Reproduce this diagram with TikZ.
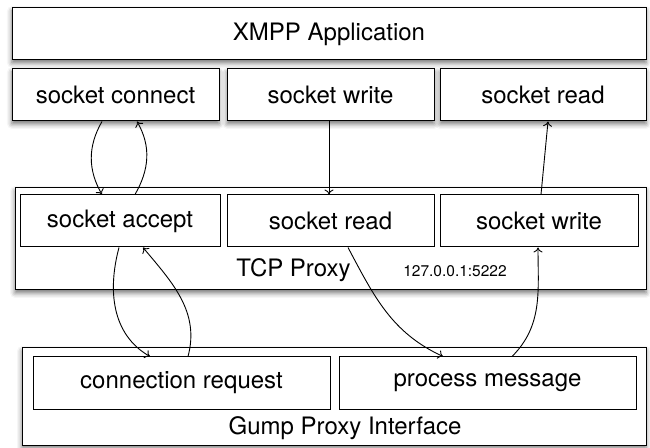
\documentclass[tikz,border=0pt]{standalone}
\usepackage{fontspec}
\setmainfont{TeX Gyre Heros}
\usetikzlibrary{shadows.blur, arrows.meta}

\begin{document}
\begin{tikzpicture}[x=1pt, y=1pt,
    layer/.style={draw, line width=1pt, fill=white, inner sep=0pt, minimum height=52pt,
        font=\fontsize{24}{26}\selectfont,
        blur shadow={shadow xshift=0pt, shadow yshift=-3pt, shadow blur radius=5pt, shadow opacity=55}},
    part/.style={draw, line width=1pt, fill=white, inner sep=0pt, minimum height=52pt,
        font=\fontsize{24}{26}\selectfont},
    frame/.style={draw, line width=1pt, fill=white, inner sep=0pt,
        blur shadow={shadow xshift=0pt, shadow yshift=-3pt, shadow blur radius=5pt, shadow opacity=55}},
    flow/.style={-{To[length=5pt, width=9pt]}, line width=0.9pt}]
    \useasboundingbox (0, 0) rectangle (650, 447);
    \node[layer, minimum width=634] (app) at (329, 413) {XMPP Application};
    \node[layer, minimum width=207] (sconn) at (115.5, 352) {socket connect};
    \node[layer, minimum width=207] (swrite) at (330.5, 352) {socket write};
    \node[layer, minimum width=206] (sread) at (543, 352) {socket read};
    \node[frame, minimum width=631, minimum height=102] (tcp) at (330.5, 208) {};
    \node[part, minimum width=200] (paccept) at (120, 226) {socket accept};
    \node[part, minimum width=207] (pread) at (330.5, 226) {socket read};
    \node[part, minimum width=198] (pwrite) at (539, 226) {socket write};
    \node[font=\fontsize{24}{26}\selectfont] (tcplabel) at (293.5, 177) {TCP Proxy};
    \node[font=\fontsize{15.5}{18}\selectfont] (addr) at (455, 176) {127.0.0.1:5222};
    \node[frame, minimum width=624, minimum height=97] (gump) at (334, 50.5) {};
    \node[part, minimum width=297] (creq) at (181.5, 64) {connection request};
    \node[part, minimum width=297] (pmsg) at (487.5, 64) {process message};
    \node[font=\fontsize{24}{26}\selectfont] (gumplabel) at (345, 19) {Gump Proxy Interface};
    \draw[flow] ([xshift=-13.5pt]sconn.south) to[out=-120, in=120] ([xshift=-18pt]paccept.north);
    \draw[flow] ([xshift=15pt]paccept.north) to[out=60, in=-60] ([xshift=21.5pt]sconn.south);
    \draw[flow] ([xshift=-1.5pt]swrite.south) -- ([xshift=-1.5pt]pread.north);
    \draw[flow] ([xshift=2pt]pwrite.north) -- ([xshift=5pt]sread.south);
    \draw[flow] ([xshift=-1pt]paccept.south) to[out=-105, in=150] ([xshift=-31.5pt]creq.north);
    \draw[flow] ([xshift=6.5pt]creq.north) to[out=75, in=-50] ([xshift=23pt]paccept.south);
    \draw[flow] ([xshift=17.5pt]pread.south) to[out=-62, in=155] ([xshift=-44.5pt]pmsg.north);
    \draw[flow] ([xshift=24.5pt]pmsg.north) to[out=45, in=-90] ([xshift=-1pt]pwrite.south);
\end{tikzpicture}
\end{document}
